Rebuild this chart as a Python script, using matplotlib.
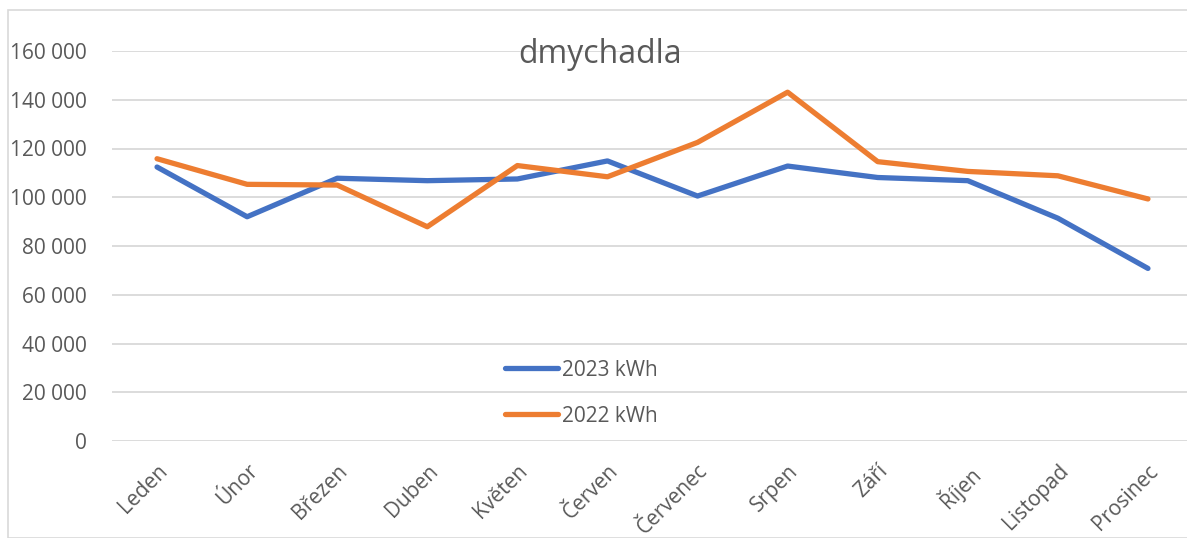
import matplotlib
matplotlib.use("Agg")
import matplotlib.pyplot as plt
from matplotlib.patches import Rectangle
from matplotlib.ticker import FuncFormatter

months = ["Leden", "Únor", "Březen", "Duben", "Květen", "Červen",
          "Červenec", "Srpen", "Září", "Říjen", "Listopad", "Prosinec"]
kwh_2023 = [112400, 92000, 107800, 106800, 107500, 114900,
            100500, 112800, 108100, 106800, 91400, 70800]
kwh_2022 = [115800, 105300, 105000, 87900, 113000, 108400,
            122500, 143100, 114600, 110600, 108800, 99300]
yticks = list(range(0, 160001, 20000))

plt.rcParams["font.family"] = ["Open Sans", "DejaVu Sans"]
GRAY = "#595959"

fig = plt.figure(figsize=(11.87, 5.38), dpi=100)
fig.patches.append(Rectangle((8 / 1187, 0), 1.2, 1 - 10 / 538, transform=fig.transFigure,
                             fill=False, edgecolor="#d9d9d9", lw=1.2))
ax = fig.add_axes([112 / 1187, 1 - 441 / 538, (1193 - 112) / 1187, (441 - 51) / 538])

x = range(len(months))
ax.plot(x, kwh_2023, color="#4472C4", lw=3.8, label="2023 kWh", solid_capstyle="round")
ax.plot(x, kwh_2022, color="#ED7D31", lw=3.8, label="2022 kWh", solid_capstyle="round")

ax.set_xlim(-0.5, len(months) - 0.5)
ax.set_ylim(0, 160000)
ax.set_yticks(yticks)
ax.yaxis.set_major_formatter(FuncFormatter(lambda v, p: f"{int(v):,}".replace(",", " ")))
ax.grid(axis="y", color="#d9d9d9", lw=1.3)
ax.set_axisbelow(True)
for s in ax.spines.values():
    s.set_visible(False)
ax.tick_params(axis="y", length=0, pad=18, labelsize=15, labelcolor=GRAY)
ax.tick_params(axis="x", length=0, pad=14)
ax.set_xticks(list(x))
ax.set_xticklabels(months, rotation=45, ha="right", va="top", rotation_mode="anchor",
                   fontsize=15, color=GRAY)

fig.text(600 / 1187, 1 - 55 / 538, "dmychadla", ha="center", va="center",
         fontsize=23, color=GRAY)

ax.legend(loc="center left", bbox_to_anchor=(495 / 1187, 1 - 393 / 538),
          bbox_transform=fig.transFigure, frameon=False, fontsize=15,
          labelcolor=GRAY, handlelength=2.5, handletextpad=0.2, labelspacing=1.2,
          borderpad=0)

fig.savefig("out.png", dpi=100)
